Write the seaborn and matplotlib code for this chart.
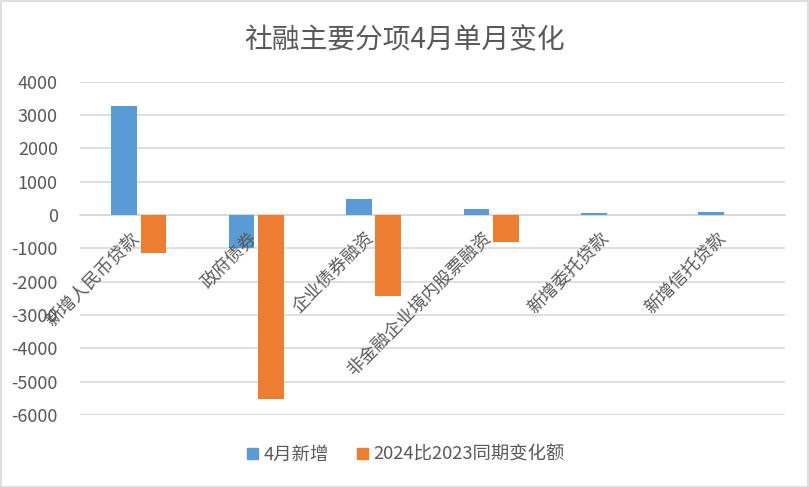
import matplotlib
matplotlib.use('Agg')
import matplotlib.pyplot as plt
import matplotlib.patches as patches
import matplotlib.transforms as mtransforms
import pandas as pd
import seaborn as sns

# 数据
leibie = ['新增人民币贷款', '政府债券', '企业债券融资', '非金融企业境内股票融资', '新增委托贷款', '新增信托贷款']
xinzeng_4yue = [3270, -980, 470, 170, 70, 100]
bianhua_e = [-1130, -5510, -2430, -820, 0, 0]
xilie = ['4月新增', '2024比2023同期变化额']
yticks = [-6000, -5000, -4000, -3000, -2000, -1000, 0, 1000, 2000, 3000, 4000]

df = pd.DataFrame({
    '类别': leibie * 2,
    '系列': [xilie[0]] * len(leibie) + [xilie[1]] * len(leibie),
    '数值': xinzeng_4yue + bianhua_e,
})

sns.set_style('white')
plt.rcParams['font.family'] = ['Noto Sans CJK SC', 'DejaVu Sans']

hui = '#595959'
xian = '#D9D9D9'

fig = plt.figure(figsize=(8.09, 4.87), dpi=100)
ax = fig.add_axes([0.099, 0.148, 0.871, 0.684])

sns.barplot(data=df, x='类别', y='数值', hue='系列', palette=['#5B9BD5', '#ED7D31'],
            width=0.5, gap=0.12, saturation=1, linewidth=0, ax=ax, legend=False)

ax.set_ylim(-6000, 4000)
ax.set_yticks(yticks)
ax.set_yticklabels([str(v) for v in yticks], fontsize=13, color=hui)
ax.yaxis.grid(True, color=xian, linewidth=1.2)
ax.set_axisbelow(True)
# 类别标签画在柱子上面
ax.xaxis.set_zorder(2.5)

for s in ['left', 'right', 'top']:
    ax.spines[s].set_visible(False)
ax.spines['bottom'].set_position(('data', 0))
ax.spines['bottom'].set_color(xian)
ax.spines['bottom'].set_linewidth(1.2)
ax.spines['bottom'].set_zorder(0.5)

ax.tick_params(axis='y', length=0, pad=16)
ax.tick_params(axis='x', length=0, pad=10)
ax.set_xticks(range(len(leibie)))
ax.set_xticklabels(leibie, rotation=45, ha='right', va='top', rotation_mode='anchor',
                   fontsize=12.8, color=hui)
# 标签稍微往左移
pianyi = mtransforms.ScaledTranslation(-0.09, 0, fig.dpi_scale_trans)
for lab in ax.get_xticklabels():
    lab.set_transform(lab.get_transform() + pianyi)
ax.set_xlabel('')
ax.set_ylabel('')

fig.suptitle('社融主要分项4月单月变化', fontsize=20, color=hui, y=0.918, va='center')

handles = [patches.Patch(color='#5B9BD5'), patches.Patch(color='#ED7D31')]
fig.legend(handles, xilie, loc='center', bbox_to_anchor=(0.502, 0.066), ncol=2, frameon=False,
           fontsize=13.2, labelcolor=hui, handlelength=0.6, handleheight=0.6,
           handletextpad=0.3, columnspacing=1.5)

fig.patches.append(patches.Rectangle((0.001, 0.001), 0.998, 0.997, transform=fig.transFigure,
                                     fill=False, edgecolor=xian, linewidth=1.2))

plt.savefig('out.png', dpi=100)
